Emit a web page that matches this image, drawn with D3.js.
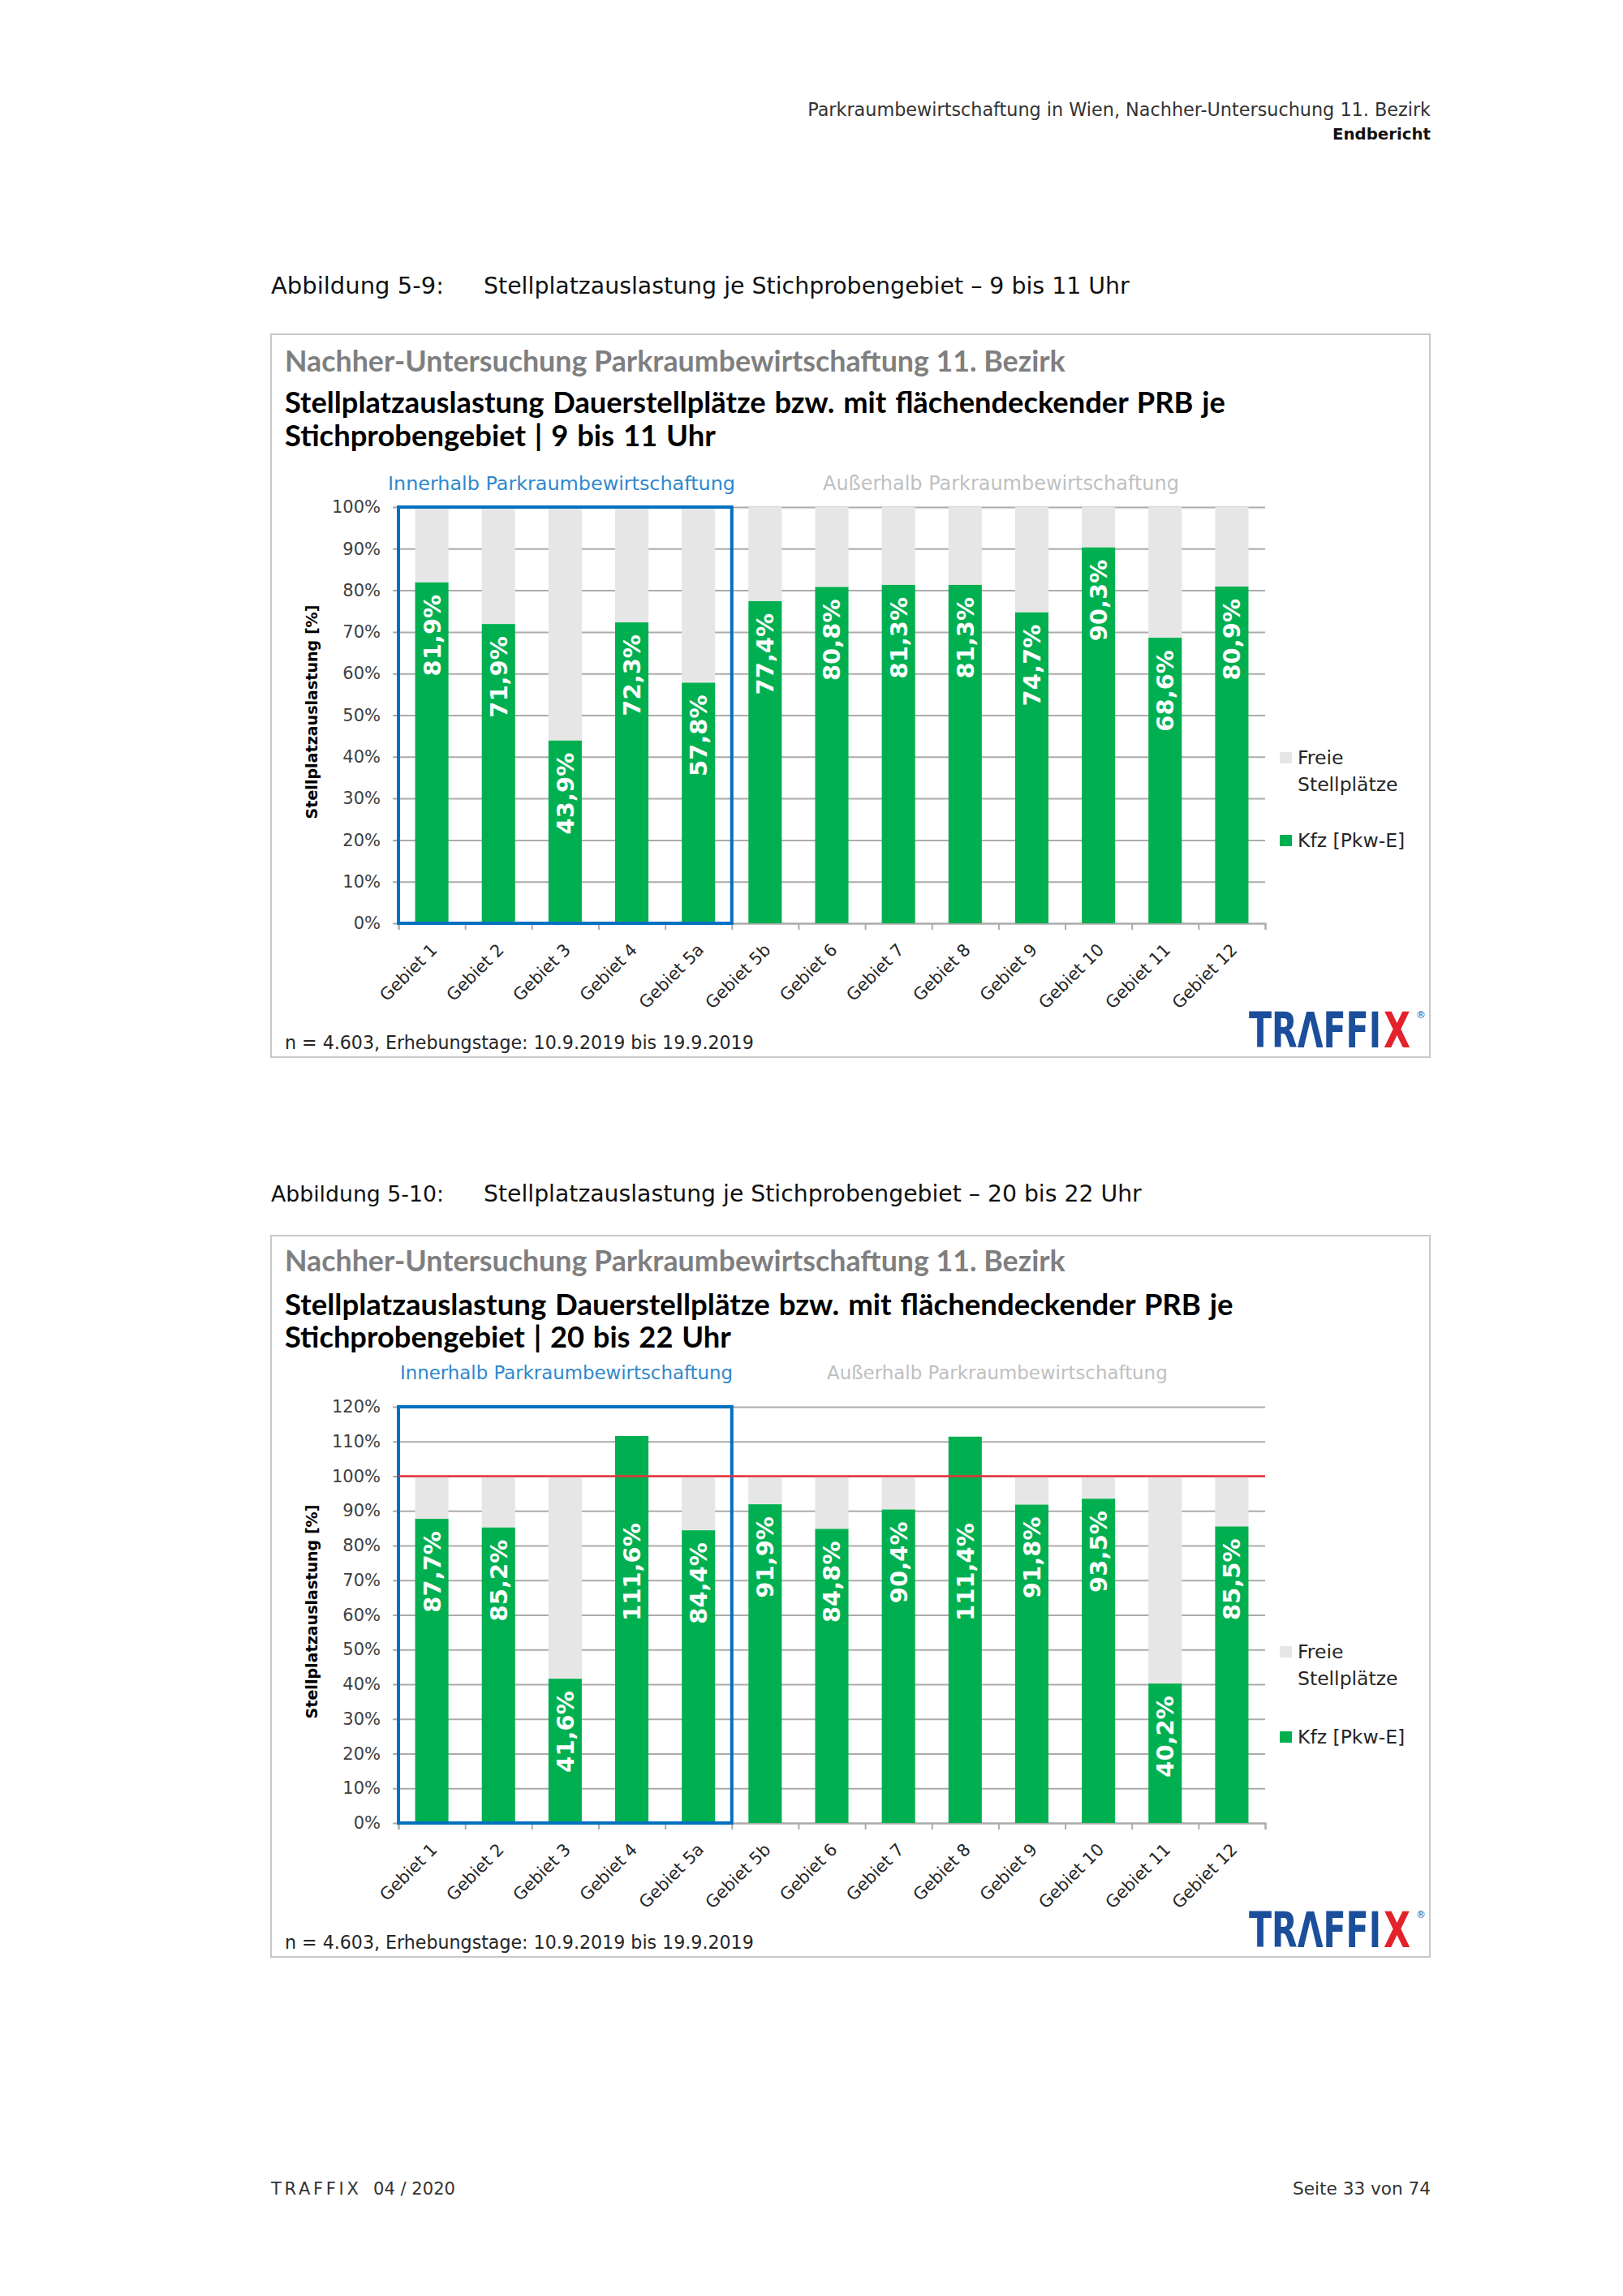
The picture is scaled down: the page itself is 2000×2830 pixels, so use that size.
<!DOCTYPE html>
<html>
<head>
<meta charset="utf-8">
<script src="https://cdnjs.cloudflare.com/ajax/libs/d3/7.8.5/d3.min.js"></script>
<style>
  html, body { margin: 0; padding: 0; background: #ffffff; }
  svg { display: block; }
</style>
</head>
<body>
<svg id="page" width="2000" height="2830"></svg>
<script>
// ---------------- DATA ----------------
const categories = ["Gebiet 1", "Gebiet 2", "Gebiet 3", "Gebiet 4", "Gebiet 5a", "Gebiet 5b",
  "Gebiet 6", "Gebiet 7", "Gebiet 8", "Gebiet 9", "Gebiet 10", "Gebiet 11", "Gebiet 12"];
const innerCategories = ["Gebiet 1", "Gebiet 2", "Gebiet 3", "Gebiet 4", "Gebiet 5a"];
const values9to11 = [81.9, 71.9, 43.9, 72.3, 57.8, 77.4, 80.8, 81.3, 81.3, 74.7, 90.3, 68.6, 80.9];
const values20to22 = [87.7, 85.2, 41.6, 111.6, 84.4, 91.9, 84.8, 90.4, 111.4, 91.8, 93.5, 40.2, 85.5];
const yTicks9to11 = [0, 10, 20, 30, 40, 50, 60, 70, 80, 90, 100];
const yTicks20to22 = [0, 10, 20, 30, 40, 50, 60, 70, 80, 90, 100, 110, 120];
const capacityLine = 100;

const headerLine1 = "Parkraumbewirtschaftung in Wien, Nachher-Untersuchung 11. Bezirk";
const headerLine2 = "Endbericht";
const caption1Label = "Abbildung 5-9:";
const caption1Text = "Stellplatzauslastung je Stichprobengebiet – 9 bis 11 Uhr";
const caption2Label = "Abbildung 5-10:";
const caption2Text = "Stellplatzauslastung je Stichprobengebiet – 20 bis 22 Uhr";
const chartSuper = "Nachher-Untersuchung Parkraumbewirtschaftung 11. Bezirk";
const chart1TitleLines = ["Stellplatzauslastung Dauerstellplätze bzw. mit flächendeckender PRB je", "Stichprobengebiet | 9 bis 11 Uhr"];
const chart2TitleLines = ["Stellplatzauslastung Dauerstellplätze bzw. mit flächendeckender PRB je", "Stichprobengebiet | 20 bis 22 Uhr"];
const groupLabels = ["Innerhalb Parkraumbewirtschaftung", "Außerhalb Parkraumbewirtschaftung"];
const legendFree = ["Freie", "Stellplätze"];
const legendCars = ["Kfz [Pkw-E]"];
const yAxisTitle = "Stellplatzauslastung [%]";
const sourceNote = "n = 4.603, Erhebungstage: 10.9.2019 bis 19.9.2019";
const footerBrand = "TRAFFIX";
const footerDate = "04 / 2020";
const footerRight = "Seite 33 von 74";

// ---------------- STYLE ----------------
const C = {
  green: "#00b050", gray: "#e7e6e6", grid: "#ababab", blue: "#0070c0",
  innerText: "#2f88cc", outerText: "#bfbfbf", superTitle: "#7f7f7f",
  red: "#e8313b", frame: "#c8c8c8", tick: "#404040", logoBlue: "#1b4f9b", logoRed: "#e3222b"
};
const SANS = "'DejaVu Sans', 'Noto Sans', sans-serif";
const TITLE = "Lato, 'Open Sans', sans-serif";

const svg = d3.select("#page");

function fit(sel, w) {
  const cur = sel.node().getComputedTextLength();
  const fs = parseFloat(sel.attr("font-size"));
  if (cur > 0) sel.attr("font-size", (fs * w / cur).toFixed(2));
  return sel;
}
function txt(parent, x, y, s, o) {
  const t = parent.append("text").attr("x", x).attr("y", y).text(s)
    .attr("font-family", o.family || SANS).attr("font-size", o.size || 20)
    .attr("font-weight", o.weight || "normal").attr("fill", o.fill || "#000")
    .attr("text-anchor", o.anchor || "start");
  if (o.width) fit(t, o.width);
  return t;
}
// horizontally condensed text (scaled glyphs) to an exact width
function squeezed(parent, x, y, s, size, w, fill) {
  const t = parent.append("text").attr("x", 0).attr("y", 0).text(s)
    .attr("font-family", SANS).attr("font-weight", "bold").attr("font-size", size).attr("fill", fill);
  const cur = t.node().getComputedTextLength();
  t.attr("transform", `translate(${x},${y}) scale(${(w / cur).toFixed(4)},1)`);
  return t;
}

// ---------------- PAGE HEADER / FOOTER ----------------
txt(svg, 1763, 143, headerLine1, {anchor: "end", size: 22, fill: "#333", width: 768});
txt(svg, 1763, 172, headerLine2, {anchor: "end", size: 22, weight: "bold", fill: "#111", width: 121});
txt(svg, 334, 2705, footerBrand, {size: 21, fill: "#333"}).attr("letter-spacing", 3.7);
txt(svg, 460, 2705, footerDate, {size: 21, fill: "#333", width: 101});
txt(svg, 1763, 2705, footerRight, {anchor: "end", size: 22, fill: "#333", width: 170});

// ---------------- CHARTS ----------------
const xRange = [491, 1559];

const charts = [
  { values: values9to11, ticks: yTicks9to11, yMax: 100,
    captionLabel: caption1Label, captionText: caption1Text, captionY: 362, captionW: 796,
    titleLines: chart1TitleLines, titleW: [1147, 521],
    boxTop: 412, boxBottom: 1303, titleY: [458, 509, 550], groupY: 604,
    groupW: [428, 439], groupX: [478, 1014],
    plotTop: 625, plotBottom: 1138, noteY: 1293, legendOff: [196, 163, 94], redLine: false },
  { values: values20to22, ticks: yTicks20to22, yMax: 120,
    captionLabel: caption2Label, captionText: caption2Text, captionY: 1481, captionW: 811,
    titleLines: chart2TitleLines, titleW: [1157, 540],
    boxTop: 1523, boxBottom: 2412, titleY: [1567, 1621, 1661], groupY: 1700,
    groupW: [410, 420], groupX: [493, 1019],
    plotTop: 1734, plotBottom: 2247, noteY: 2402, legendOff: [203, 170, 98], redLine: true }
];

charts.forEach(cfg => {
  // caption above the chart
  txt(svg, 334, cfg.captionY, cfg.captionLabel, {size: 24, fill: "#111", width: 213});
  txt(svg, 596, cfg.captionY, cfg.captionText, {size: 24, fill: "#111", width: cfg.captionW});

  const g = svg.append("g");
  // frame
  g.append("rect").attr("x", 334).attr("y", cfg.boxTop)
    .attr("width", 1762 - 334).attr("height", cfg.boxBottom - cfg.boxTop)
    .attr("fill", "#fff").attr("stroke", C.frame).attr("stroke-width", 2);

  // titles
  txt(g, 351, cfg.titleY[0], chartSuper, {family: TITLE, size: 32, weight: "bold", fill: C.superTitle, width: 962});
  cfg.titleLines.forEach((l, i) => {
    txt(g, 351, cfg.titleY[i + 1], l, {family: TITLE, size: 32, weight: "bold", fill: "#000", width: cfg.titleW[i]})
      .attr("word-spacing", 2);
  });

  // group labels
  txt(g, cfg.groupX[0], cfg.groupY, groupLabels[0], {size: 23, fill: C.innerText, width: cfg.groupW[0]});
  txt(g, cfg.groupX[1], cfg.groupY, groupLabels[1], {size: 23, fill: C.outerText, width: cfg.groupW[1]});

  // scales
  const x = d3.scaleBand().domain(categories).range(xRange).paddingInner(0.5).paddingOuter(0.25);
  const y = d3.scaleLinear().domain([0, cfg.yMax]).range([cfg.plotBottom, cfg.plotTop]);
  const xEdge = d3.scaleLinear().domain([0, categories.length]).range(xRange);

  // gridlines + y tick labels
  const plotW = xRange[1] - xRange[0];
  const yAxis = g.append("g").attr("transform", `translate(${xRange[0] - 7},0)`)
    .call(d3.axisLeft(y).tickValues(cfg.ticks).tickSize(-(plotW + 7)).tickPadding(15)
      .tickFormat(d => d + "%"));
  yAxis.select(".domain").remove();
  yAxis.selectAll(".tick line").attr("stroke", C.grid).attr("stroke-width", 2);
  yAxis.selectAll(".tick text").attr("font-family", SANS).attr("font-size", 21).attr("fill", C.tick);

  // y axis title
  const yMid = (cfg.plotTop + cfg.plotBottom) / 2 - 4;
  const yt = g.append("text").attr("transform", `translate(391,${yMid}) rotate(-90)`)
    .attr("text-anchor", "middle").attr("font-family", SANS).attr("font-weight", "bold")
    .attr("font-size", 17.5).attr("fill", "#000").text(yAxisTitle);
  fit(yt, 264);

  // x axis line with edge ticks
  const xAxis = g.append("g").attr("transform", `translate(0,${cfg.plotBottom})`)
    .call(d3.axisBottom(xEdge).tickValues(d3.range(categories.length + 1)).tickSize(8).tickFormat(""));
  xAxis.select(".domain").attr("stroke", C.grid).attr("stroke-width", 2);
  xAxis.selectAll(".tick line").attr("stroke", C.grid).attr("stroke-width", 2);

  // category labels
  const xLab = g.append("g").attr("transform", `translate(0,${cfg.plotBottom})`)
    .call(d3.axisBottom(x).tickSize(0).tickPadding(0));
  xLab.select(".domain").remove();
  xLab.selectAll(".tick text")
    .attr("y", 0).attr("x", 0).attr("dy", 0)
    .attr("transform", "translate(8,34) rotate(-45)")
    .attr("text-anchor", "end").attr("font-family", SANS).attr("font-size", 21).attr("fill", "#262626");

  const rows = categories.map((c, i) => ({cat: c, v: cfg.values[i]}));

  // free places (gray, stacked up to 100 %)
  g.append("g").selectAll("rect").data(rows.filter(d => d.v < capacityLine)).join("rect")
    .attr("x", d => x(d.cat)).attr("width", x.bandwidth())
    .attr("y", y(capacityLine)).attr("height", d => y(d.v) - y(capacityLine))
    .attr("fill", C.gray);

  // occupied (green)
  g.append("g").selectAll("rect").data(rows).join("rect")
    .attr("x", d => x(d.cat)).attr("width", x.bandwidth())
    .attr("y", d => y(d.v)).attr("height", d => y(0) - y(d.v))
    .attr("fill", C.green);

  // value labels
  const fs = 29;
  g.append("g").selectAll("text").data(rows).join("text")
    .attr("transform", d => {
      const anchorV = d.v > capacityLine ? 90 : d.v;
      return `translate(${x(d.cat) + x.bandwidth() / 2 + fs * 0.36},${y(anchorV) + 15}) rotate(-90)`;
    })
    .attr("text-anchor", "end").attr("font-family", SANS).attr("font-weight", "bold")
    .attr("font-size", fs).attr("fill", "#fff")
    .text(d => d3.format(".1f")(d.v).replace(".", ",") + "%");

  // inner group box
  const x0 = x(innerCategories[0]) - x.step() * x.paddingOuter();
  const x1 = x0 + innerCategories.length * x.step();
  g.append("rect").attr("x", x0).attr("y", y(cfg.yMax))
    .attr("width", x1 - x0).attr("height", y(0) - y(cfg.yMax))
    .attr("fill", "none").attr("stroke", C.blue).attr("stroke-width", 4);

  // capacity line
  if (cfg.redLine) {
    g.append("line").attr("x1", xRange[0]).attr("x2", xRange[1])
      .attr("y1", y(capacityLine)).attr("y2", y(capacityLine))
      .attr("stroke", C.red).attr("stroke-width", 2.5);
  }

  // legend
  const leg = [
    {name: legendFree, color: C.gray, yb: cfg.plotBottom - cfg.legendOff[0]},
    {name: legendCars, color: C.green, yb: cfg.plotBottom - cfg.legendOff[2]}
  ];
  const lineGap = cfg.legendOff[0] - cfg.legendOff[1];
  leg.forEach(l => {
    g.append("rect").attr("x", 1577).attr("y", l.yb - 15).attr("width", 15).attr("height", 14).attr("fill", l.color);
    l.name.forEach((n, i) => {
      g.append("text").attr("x", 1599).attr("y", l.yb + i * lineGap)
        .attr("font-family", SANS).attr("font-size", 23.5).attr("fill", "#262626").text(n);
    });
  });

  // source note
  txt(g, 351, cfg.noteY, sourceNote, {size: 22, fill: "#262626", width: 578});

  // logo (separate, horizontally condensed pieces)
  const logoY = cfg.boxBottom - 12;
  squeezed(g, 1539, logoY, "TRΛFFI", 60, 163, C.logoBlue);
  squeezed(g, 1705, logoY, "X", 60, 33, C.logoRed);
  g.append("text").attr("x", 1745).attr("y", logoY - 36)
    .attr("font-family", SANS).attr("font-size", 12).attr("fill", C.logoBlue).text("®");
});
</script>
</body>
</html>
